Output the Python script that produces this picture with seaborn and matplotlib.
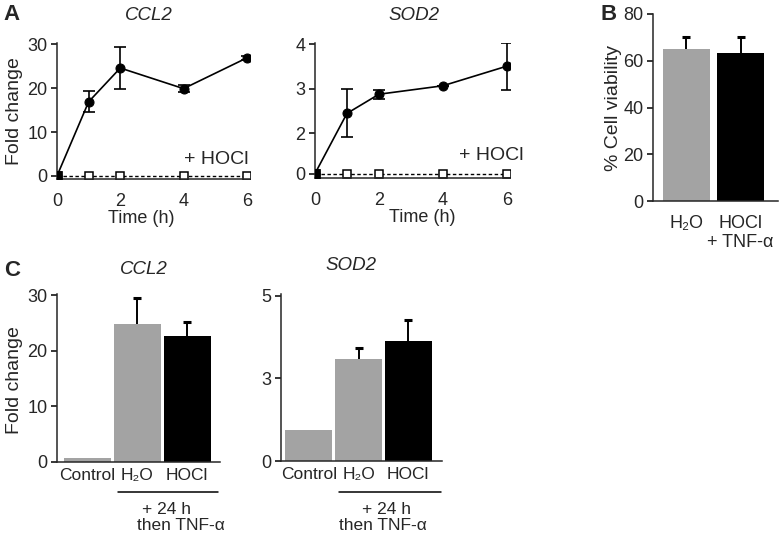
import numpy as np
import pandas as pd
import matplotlib
matplotlib.use("Agg")
import matplotlib.pyplot as plt
import seaborn as sns

# =========================
# DATA
# =========================

hours = [0, 1, 2, 4, 6]

# panel A, CCL2 (fold change)
ccl2_tnf = [0, 16.9, 24.6, 19.9, 26.9]
ccl2_tnf_err = [0, 2.4, 4.8, 0.8, 0.4]
ccl2_hocl = [0, 0, 0, 0, 0]

# panel A, SOD2 (axis baseline labelled "0" sits at 1.1)
sod2_tnf = [1.1, 2.45, 2.88, 3.07, 3.51]
sod2_tnf_err = [0, 0.54, 0.1, 0.0, 0.53]
sod2_hocl = [1.1, 1.1, 1.1, 1.1, 1.1]
sod2_ticks = [1.1, 2, 3, 4]
sod2_ticklabels = ["0", "2", "3", "4"]

# panel B, viability
viab_groups = ["H₂O", "HOCl\n+ TNF-α"]
viab_vals = [64.9, 63.2]
viab_err = [5.3, 6.8]

# panel C
c_groups = ["Control", "H₂O", "HOCl"]
c_ccl2 = [0.8, 24.8, 22.7]
c_ccl2_err = [0, 4.7, 2.4]
c_sod2 = [0.94, 3.07, 3.63]
c_sod2_err = [0, 0.36, 0.64]
c_sod2_ticks = [0, 2.5, 5]
c_sod2_ticklabels = ["0", "3", "5"]

GRAY = "#a3a3a3"
bar_colors = [GRAY, GRAY, "black"]
viab_colors = [GRAY, "black"]

# =========================
# STYLE
# =========================

sns.set_style("ticks")
plt.rcParams['font.family'] = ['Liberation Sans', 'DejaVu Sans']
plt.rcParams['axes.linewidth'] = 1.1
plt.rcParams['xtick.labelsize'] = 13
plt.rcParams['ytick.labelsize'] = 13

W, H = 780, 536
fig = plt.figure(figsize=(W / 100, H / 100), dpi=100)


def add_ax(x0, y0, x1, y1):
    return fig.add_axes([x0 / W, 1 - y1 / H, (x1 - x0) / W, (y1 - y0) / H])


def style_ax(ax):
    sns.despine(ax=ax)
    ax.tick_params(axis='y', length=4, width=1.1, pad=3, color='black')
    ax.tick_params(axis='x', length=0)


def fig_text(x, y, s, **kw):
    fig.text(x / W, 1 - y / H, s, ha=kw.pop('ha', 'center'),
             va=kw.pop('va', 'center'), **kw)


# -------------------------
# A: time courses
# -------------------------

def time_course(ax, tnf, err, base, ylim):
    sns.lineplot(x=hours, y=base, ax=ax, color='black', lw=1.0,
                 linestyle=(0, (2.5, 1.8)), marker='s', markersize=6,
                 markerfacecolor='white', markeredgecolor='black',
                 markeredgewidth=1.1)
    sns.lineplot(x=hours, y=tnf, ax=ax, color='black', lw=1.2,
                 marker='o', markersize=6.5, markeredgecolor='black')
    ax.errorbar(hours[1:], tnf[1:], yerr=err[1:], fmt='none',
                ecolor='black', elinewidth=1.2, capsize=4, capthick=1.2)
    sns.scatterplot(x=hours[:1], y=tnf[:1], ax=ax, marker='s', s=45,
                    color='black', edgecolor='black', zorder=5)
    ax.set_xlim(0, 6.1)
    ax.set_ylim(*ylim)
    ax.set_xticks([0, 2, 4, 6])
    style_ax(ax)
    ax.tick_params(axis='x', pad=10)
    for sp in ax.spines.values():
        sp.set_clip_on(False)


ax1 = add_ax(57, 43, 250, 179)
time_course(ax1, ccl2_tnf, ccl2_tnf_err, ccl2_hocl, (-0.7, 30.3))
ax1.set_yticks([0, 10, 20, 30])

ax2 = add_ax(315, 43, 510, 178)
time_course(ax2, sod2_tnf, sod2_tnf_err, sod2_hocl, (1.0, 4.03))
ax2.set_yticks(sod2_ticks)
ax2.set_yticklabels(sod2_ticklabels)

fig_text(216, 160, "+ HOCl", fontsize=14)
fig_text(491, 155, "+ HOCl", fontsize=14)
fig_text(141, 219, "Time (h)", fontsize=13)
fig_text(422, 218, "Time (h)", fontsize=13)
fig_text(149, 16, "CCL2", fontsize=13.5, style='italic')
fig_text(414, 16, "SOD2", fontsize=13.5, style='italic')
fig_text(15, 111, "Fold change", fontsize=14, rotation=90)

# -------------------------
# B: viability
# -------------------------

def bar_panel(ax, groups, vals, err, colors, width):
    df = pd.DataFrame({'group': groups, 'val': vals})
    sns.barplot(data=df, x='group', y='val', hue='group', palette=colors,
                order=groups, hue_order=groups, width=width, saturation=1,
                linewidth=0, legend=False, ax=ax)
    pos = np.arange(len(groups))
    e = np.array(err, dtype=float)
    keep = e > 0
    _, caps, _ = ax.errorbar(pos[keep], np.array(vals)[keep],
                             yerr=[np.zeros(keep.sum()), e[keep]],
                             fmt='none', ecolor='black', elinewidth=1.4,
                             capsize=3, capthick=2.2)
    caps[0].set_visible(False)
    ax.set_xlabel("")
    ax.set_ylabel("")
    style_ax(ax)


ax3 = add_ax(653, 14, 778, 201)
bar_panel(ax3, viab_groups, viab_vals, viab_err, viab_colors, 0.876)
ax3.set_xlim(-0.614, 1.69)
ax3.set_ylim(0, 80)
ax3.set_yticks([0, 20, 40, 60, 80])
ax3.tick_params(axis='x', pad=10)
for lab in ax3.get_xticklabels():
    lab.set_linespacing(1.15)
fig_text(613, 108, "% Cell viability", fontsize=14, rotation=90)

# -------------------------
# C: bars
# -------------------------

ax4 = add_ax(57, 294, 220, 462)
bar_panel(ax4, c_groups, c_ccl2, c_ccl2_err, bar_colors, 0.94)
ax4.set_xlim(-0.61, 2.66)
ax4.set_ylim(0, 30.2)
ax4.set_yticks([0, 10, 20, 30])

ax5 = add_ax(281, 294, 442, 461)
bar_panel(ax5, c_groups, c_sod2, c_sod2_err, bar_colors, 0.94)
ax5.set_xlim(-0.56, 2.68)
ax5.set_ylim(0, 5.05)
ax5.set_yticks(c_sod2_ticks)
ax5.set_yticklabels(c_sod2_ticklabels)

for ax in (ax4, ax5):
    ax.tick_params(axis='x', pad=4, labelsize=12.5)

fig_text(15, 380, "Fold change", fontsize=14, rotation=90)
fig_text(144, 270, "CCL2", fontsize=13.5, style='italic')
fig_text(351, 266, "SOD2", fontsize=13.5, style='italic')

for x0, x1, c1, c2 in [(118, 218, 166, 181), (339, 441, 387, 383)]:
    fig.add_artist(plt.Line2D([x0 / W, x1 / W], [1 - 491.5 / H] * 2,
                              color='black', lw=1.1))
    fig_text(c1, 509, "+ 24 h", fontsize=12.5)
    fig_text(c2, 526, "then TNF-α", fontsize=12.5)

# panel letters
fig_text(3, 14, "A", fontsize=16, fontweight='bold', ha='left')
fig_text(600, 14, "B", fontsize=16, fontweight='bold', ha='left')
fig_text(4, 270, "C", fontsize=16, fontweight='bold', ha='left')

plt.savefig("out.png", dpi=100)
